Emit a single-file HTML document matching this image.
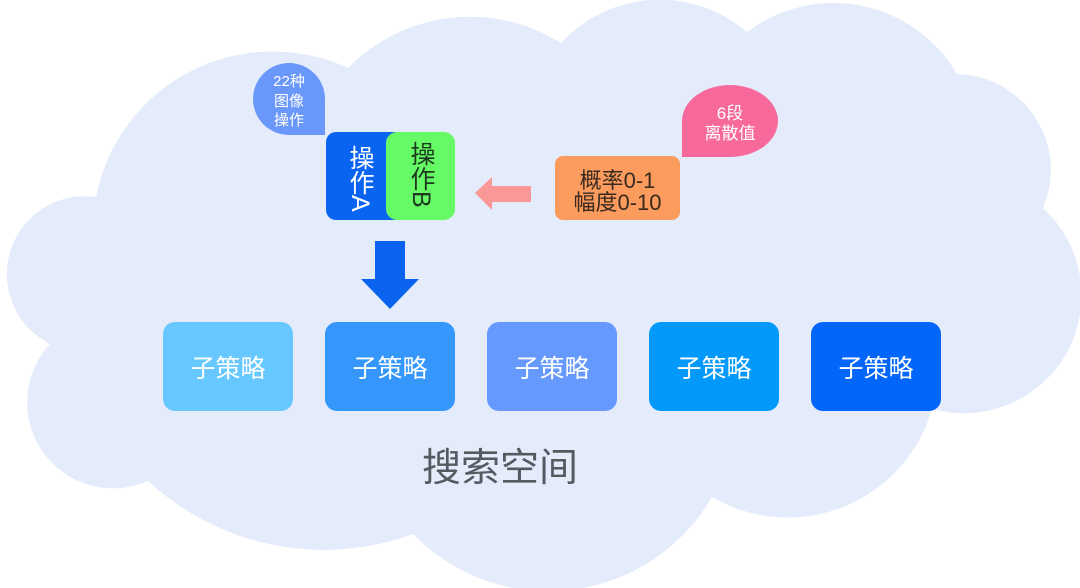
<!DOCTYPE html>
<html>
<head>
<meta charset="utf-8">
<style>
  html, body { margin:0; padding:0; background:#ffffff; }
  body { width:1080px; height:588px; position:relative; overflow:hidden;
         font-family:"Liberation Sans","Noto Sans CJK SC",sans-serif; }
  .abs { position:absolute; }
  .bubble-blue { left:253px; top:63px; width:72px; height:72px; background:#6a98fa;
    border-radius:36px 36px 0 36px; color:#fff; font-size:15px; line-height:19.5px;
    text-align:center; box-sizing:border-box; padding-top:9px; }
  .bubble-pink { left:682px; top:85px; width:96px; height:72px; background:#f8699b;
    border-radius:50% 50% 50% 0; color:#fff; font-size:17px; line-height:20px;
    text-align:center; box-sizing:border-box; padding-top:19px; }
  .opA { left:326px; top:132px; width:96px; height:88px; background:#0a64f2; border-radius:10px; }
  .opB { left:386px; top:132px; width:69px; height:88px; background:#66fa66; border-radius:11px; }
  .vtext { writing-mode:vertical-rl; font-size:25px; line-height:25px; }
  .orange { left:555px; top:156px; width:125px; height:64px; background:#fb9b5e; border-radius:8px;
    color:#3a2a1e; font-size:22px; line-height:22px; text-align:center; box-sizing:border-box; padding-top:14px; }
  .sub { top:322px; width:130px; height:89px; border-radius:12px; color:#fff; font-size:25px;
    line-height:95px; text-align:center; }
  .title { left:400px; top:445px; width:200px; text-align:center; font-size:39px; line-height:48px; color:#555a60; }
</style>
</head>
<body>
<svg class="abs" style="left:0;top:0" width="1080" height="588" viewBox="0 0 1080 588">
  <path fill="#e4ecfc" d="M96,197 A180,180 0 0 1 348,68 A171,171 0 0 1 561,43 A134,134 0 0 1 747,32 A143,143 0 0 1 957,74 A96,96 0 0 1 1043,208 A118,118 0 0 1 932,409 A150,150 0 0 1 712,497 A189,189 0 0 1 413,534 A259,259 0 0 1 148,481 A86,86 0 0 1 50,344 A78,78 0 0 1 96,197 Z"/>
  <!-- pink left arrow -->
  <polygon fill="#fa9797" points="475,193 492,177 492,186 531,186 531,202 492,202 492,210"/>
  <!-- blue down arrow -->
  <polygon fill="#0a63ef" points="375,241 405,241 405,279 419,279 390,309 361,279 375,279"/>
</svg>

<div class="abs bubble-blue">22种<br>图像<br>操作</div>
<div class="abs bubble-pink">6段<br>离散值</div>

<div class="abs opA"></div>
<div class="abs opB"></div>
<div class="abs vtext" style="left:347px;top:145px;color:#ffffff;">操作A</div>
<div class="abs vtext" style="left:408px;top:141px;color:#1e3a1e;">操作B</div>

<div class="abs orange">概率0-1<br>幅度0-10</div>

<div class="abs sub" style="left:163px;background:#66c8fe;">子策略</div>
<div class="abs sub" style="left:325px;background:#3597fb;">子策略</div>
<div class="abs sub" style="left:487px;background:#6699fe;">子策略</div>
<div class="abs sub" style="left:649px;background:#0399fb;">子策略</div>
<div class="abs sub" style="left:811px;background:#0366fb;">子策略</div>

<div class="abs title">搜索空间</div>
</body>
</html>
